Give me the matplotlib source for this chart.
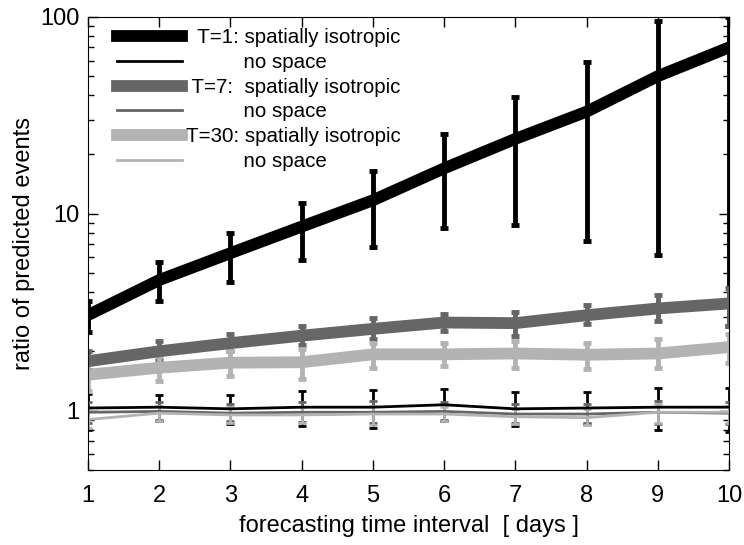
import numpy as np
import matplotlib.pyplot as plt

plt.rcParams['font.family'] = ['Liberation Sans', 'DejaVu Sans']

days = [1, 2, 3, 4, 5, 6, 7, 8, 9, 10]

# T=1
iso1 = [3.05, 4.6, 6.3, 8.6, 11.7, 17.0, 24.0, 33.0, 50.0, 70.0]
iso1_lo = [2.5, 3.6, 4.5, 5.8, 6.8, 8.5, 8.8, 7.3, 6.2, 2.7]
iso1_hi = [3.6, 5.7, 8.0, 11.4, 16.5, 25.5, 39.0, 59.0, 95.0, 100.0]
nos1 = [1.03, 1.04, 1.02, 1.04, 1.04, 1.07, 1.02, 1.03, 1.04, 1.04]
nos1_lo = [0.80, 0.88, 0.85, 0.83, 0.82, 0.88, 0.83, 0.85, 0.80, 0.78]
nos1_hi = [1.22, 1.20, 1.20, 1.25, 1.27, 1.28, 1.24, 1.24, 1.30, 1.30]

# T=7
iso7 = [1.78, 2.0, 2.2, 2.4, 2.6, 2.8, 2.78, 3.05, 3.3, 3.5]
iso7_lo = [1.6, 1.8, 2.0, 2.15, 2.3, 2.55, 2.4, 2.75, 2.85, 2.7]
iso7_hi = [2.0, 2.25, 2.45, 2.7, 2.95, 3.1, 3.15, 3.45, 3.85, 4.2]
nos7 = [0.98, 0.99, 0.97, 0.98, 0.98, 0.99, 0.96, 0.96, 0.98, 0.97]
nos7_lo = [0.86, 0.90, 0.88, 0.87, 0.86, 0.90, 0.86, 0.86, 0.85, 0.85]
nos7_hi = [1.10, 1.10, 1.08, 1.10, 1.12, 1.10, 1.08, 1.08, 1.12, 1.10]

# T=30
iso30 = [1.52, 1.65, 1.75, 1.76, 1.93, 1.93, 1.95, 1.92, 1.95, 2.1]
iso30_lo = [1.25, 1.42, 1.5, 1.45, 1.65, 1.68, 1.65, 1.62, 1.65, 1.75]
iso30_hi = [1.78, 1.9, 2.0, 2.05, 2.2, 2.2, 2.25, 2.2, 2.3, 2.45]
nos30 = [0.90, 0.97, 0.95, 0.95, 0.96, 0.96, 0.93, 0.92, 0.98, 0.98]
nos30_lo = [0.82, 0.88, 0.86, 0.86, 0.84, 0.88, 0.85, 0.84, 0.86, 0.86]
nos30_hi = [1.00, 1.05, 1.04, 1.04, 1.06, 1.04, 1.02, 1.02, 1.08, 1.06]

black = '#000000'
dark = '#666666'
light = '#b3b3b3'

pad = ' ' * 10
series = [
    (iso1, iso1_lo, iso1_hi, black, 8.5, 3.5, '  T=1: spatially isotropic'),
    (nos1, nos1_lo, nos1_hi, black, 2.0, 2.0, pad + 'no space'),
    (iso7, iso7_lo, iso7_hi, dark, 8.5, 3.5, ' T=7:  spatially isotropic'),
    (nos7, nos7_lo, nos7_hi, dark, 2.0, 2.0, pad + 'no space'),
    (iso30, iso30_lo, iso30_hi, light, 8.5, 3.5, 'T=30: spatially isotropic'),
    (nos30, nos30_lo, nos30_hi, light, 2.0, 2.0, pad + 'no space'),
]

fig = plt.figure(figsize=(7.44, 5.45), dpi=100)
ax = fig.add_axes([0.118, 0.138, 0.862, 0.831])

handles = []
labels = []
for vals, lo, hi, col, lw, elw, lab in series:
    v = np.array(vals)
    err = [v - np.array(lo), np.array(hi) - v]
    cont = ax.errorbar(days, v, yerr=err, color=col, lw=lw, elinewidth=elw,
                       capsize=3, capthick=elw)
    handles.append(cont.lines[0])
    labels.append(lab)

ax.set_yscale('log')
ax.set_xlim(1, 10)
ax.set_ylim(0.5, 100)
ax.set_xticks(days)
ax.set_xticklabels([str(d) for d in days])
ax.set_yticks([1, 10, 100])
ax.set_yticklabels(['1', '10', '100'])
ax.tick_params(which='both', direction='in', top=True, right=True,
               labelsize=17)
ax.tick_params(which='major', length=7, width=1)
ax.tick_params(which='minor', length=4, width=1)
ax.tick_params(axis='x', pad=11)
ax.tick_params(axis='y', pad=6)

ax.set_xlabel('forecasting time interval  [ days ]', fontsize=17, labelpad=6)
ax.set_ylabel('ratio of predicted events', fontsize=17, labelpad=4)

ax.legend(handles, labels, loc='upper left', frameon=False, fontsize=14.8,
          handlelength=3.2, handletextpad=0.15, labelspacing=0.28,
          borderaxespad=0.0, borderpad=0.0, bbox_to_anchor=(0.045, 0.975))

fig.savefig('out.png', dpi=100)
